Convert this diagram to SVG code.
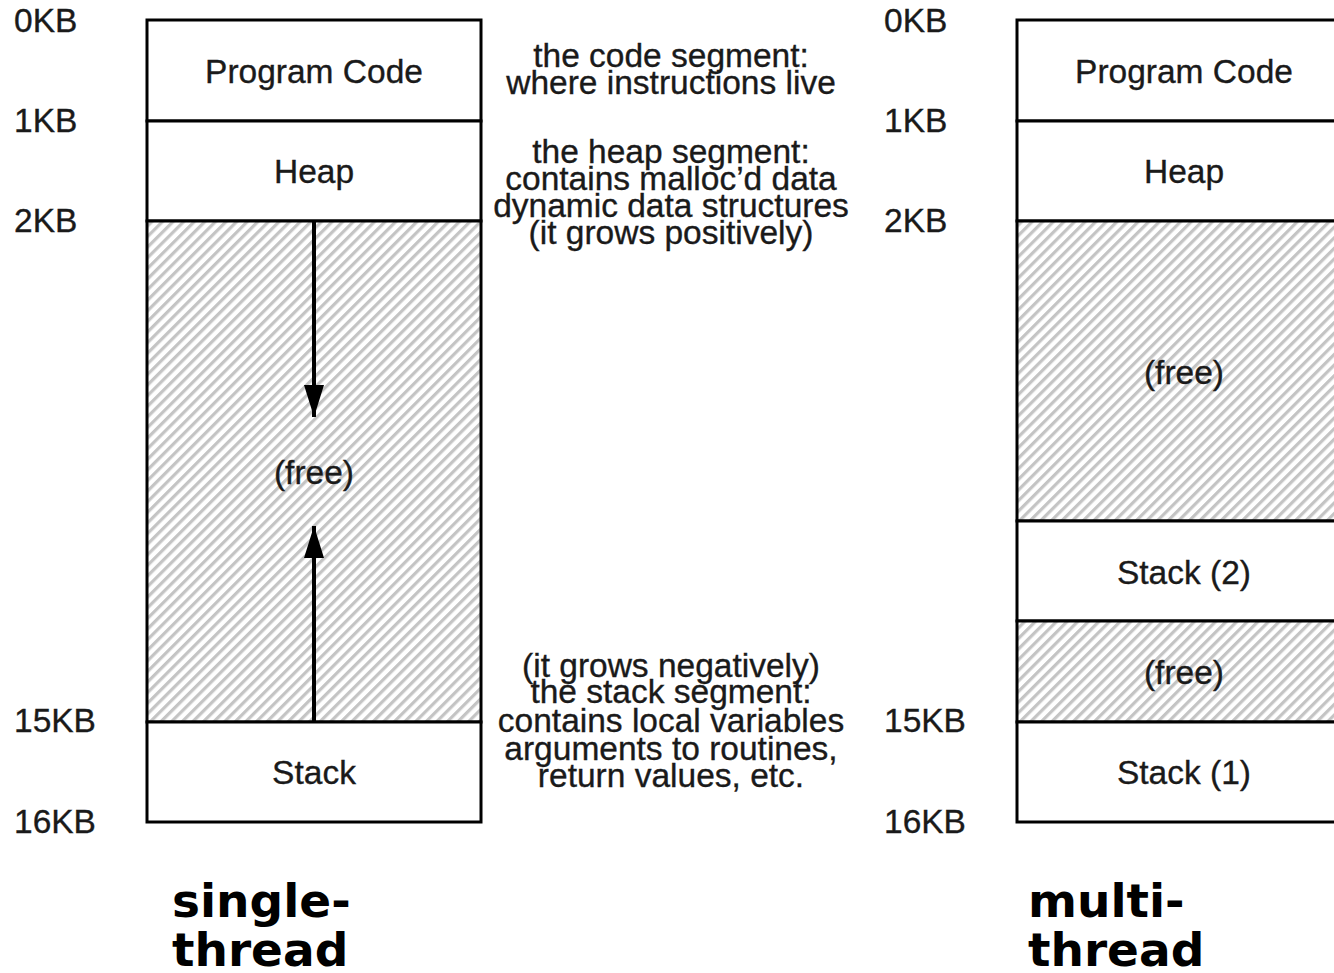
<svg xmlns="http://www.w3.org/2000/svg" width="1334" height="973" viewBox="0 0 1334 973">
  <style>
    .lbl { font-family: "Liberation Sans", Arial, sans-serif; font-size: 33.5px; fill: #1a1a1a; stroke: #1a1a1a; stroke-width: 0.35; }
    .mid { text-anchor: middle; }
    .note { font-family: "Liberation Sans", Arial, sans-serif; font-size: 33.5px; fill: #1a1a1a; stroke: #1a1a1a; stroke-width: 0.35; text-anchor: middle; }
    .title { font-family: "DejaVu Sans", sans-serif; font-weight: bold; font-size: 47px; fill: #000; }
    .box { fill: #fff; stroke: #000; stroke-width: 3; }
    .free { fill: url(#hatch); stroke: #000; stroke-width: 3; }
    .arrow { stroke: #000; stroke-width: 4; fill: none; }
  </style>
  <defs>
    <pattern id="hatch" patternUnits="userSpaceOnUse" width="7.5" height="7.5" patternTransform="rotate(45)">
      <rect width="7.5" height="7.5" fill="#ffffff"/>
      <rect x="0" y="0" width="3.2" height="7.5" fill="#c4c4c4"/>
    </pattern>
    <marker id="head" viewBox="0 0 32 20" refX="32" refY="10" markerWidth="32" markerHeight="20" markerUnits="userSpaceOnUse" orient="auto">
      <path d="M0,0 L32,10 L0,20 Z" fill="#000"/>
    </marker>
  </defs>

  <rect width="1334" height="973" fill="#fff"/>

  <!-- single-threaded address space -->
  <g id="single-scale">
    <text class="lbl" x="14" y="32">0KB</text>
    <text class="lbl" x="14" y="132">1KB</text>
    <text class="lbl" x="14" y="232">2KB</text>
    <text class="lbl" x="14" y="732">15KB</text>
    <text class="lbl" x="14" y="833">16KB</text>
  </g>
  <g id="single-code">
    <rect class="box" x="147" y="20" width="334" height="101"/>
    <text class="lbl mid" x="314" y="83">Program Code</text>
  </g>
  <g id="single-heap">
    <rect class="box" x="147" y="121" width="334" height="100"/>
    <text class="lbl mid" x="314" y="183">Heap</text>
  </g>
  <g id="single-free">
    <rect class="free" x="147" y="221" width="334" height="501"/>
    <text class="lbl mid" x="314" y="484">(free)</text>
  </g>
  <g id="single-stack">
    <rect class="box" x="147" y="722" width="334" height="100"/>
    <text class="lbl mid" x="314" y="784">Stack</text>
  </g>

  <!-- growth directions -->
  <g id="connectors">
    <line class="arrow" x1="314" y1="222" x2="314" y2="417" marker-end="url(#head)"/>
    <line class="arrow" x1="314" y1="721" x2="314" y2="526" marker-end="url(#head)"/>
  </g>

  <!-- segment notes -->
  <g id="note-code">
    <text class="note" x="671" y="67">the code segment:</text>
    <text class="note" x="671" y="94">where instructions live</text>
  </g>
  <g id="note-heap">
    <text class="note" x="671" y="163">the heap segment:</text>
    <text class="note" x="671" y="190">contains malloc’d data</text>
    <text class="note" x="671" y="217">dynamic data structures</text>
    <text class="note" x="671" y="244">(it grows positively)</text>
  </g>
  <g id="note-stack">
    <text class="note" x="671" y="677">(it grows negatively)</text>
    <text class="note" x="671" y="703">the stack segment:</text>
    <text class="note" x="671" y="732">contains local variables</text>
    <text class="note" x="671" y="760">arguments to routines,</text>
    <text class="note" x="671" y="787">return values, etc.</text>
  </g>

  <!-- multi-threaded address space -->
  <g id="multi-scale">
    <text class="lbl" x="884" y="32">0KB</text>
    <text class="lbl" x="884" y="132">1KB</text>
    <text class="lbl" x="884" y="232">2KB</text>
    <text class="lbl" x="884" y="732">15KB</text>
    <text class="lbl" x="884" y="833">16KB</text>
  </g>
  <g id="multi-code">
    <rect class="box" x="1017" y="20" width="334" height="101"/>
    <text class="lbl mid" x="1184" y="83">Program Code</text>
  </g>
  <g id="multi-heap">
    <rect class="box" x="1017" y="121" width="334" height="100"/>
    <text class="lbl mid" x="1184" y="183">Heap</text>
  </g>
  <g id="multi-free1">
    <rect class="free" x="1017" y="221" width="334" height="300"/>
    <text class="lbl mid" x="1184" y="384">(free)</text>
  </g>
  <g id="multi-stack2">
    <rect class="box" x="1017" y="521" width="334" height="100"/>
    <text class="lbl mid" x="1184" y="584">Stack (2)</text>
  </g>
  <g id="multi-free2">
    <rect class="free" x="1017" y="621" width="334" height="101"/>
    <text class="lbl mid" x="1184" y="684">(free)</text>
  </g>
  <g id="multi-stack1">
    <rect class="box" x="1017" y="722" width="334" height="100"/>
    <text class="lbl mid" x="1184" y="784">Stack (1)</text>
  </g>

  <!-- captions -->
  <g id="caption-single">
    <text class="title" x="172" y="917">single-</text>
    <text class="title" x="172" y="966">thread</text>
  </g>
  <g id="caption-multi">
    <text class="title" x="1028" y="917">multi-</text>
    <text class="title" x="1028" y="966">thread</text>
  </g>
</svg>
